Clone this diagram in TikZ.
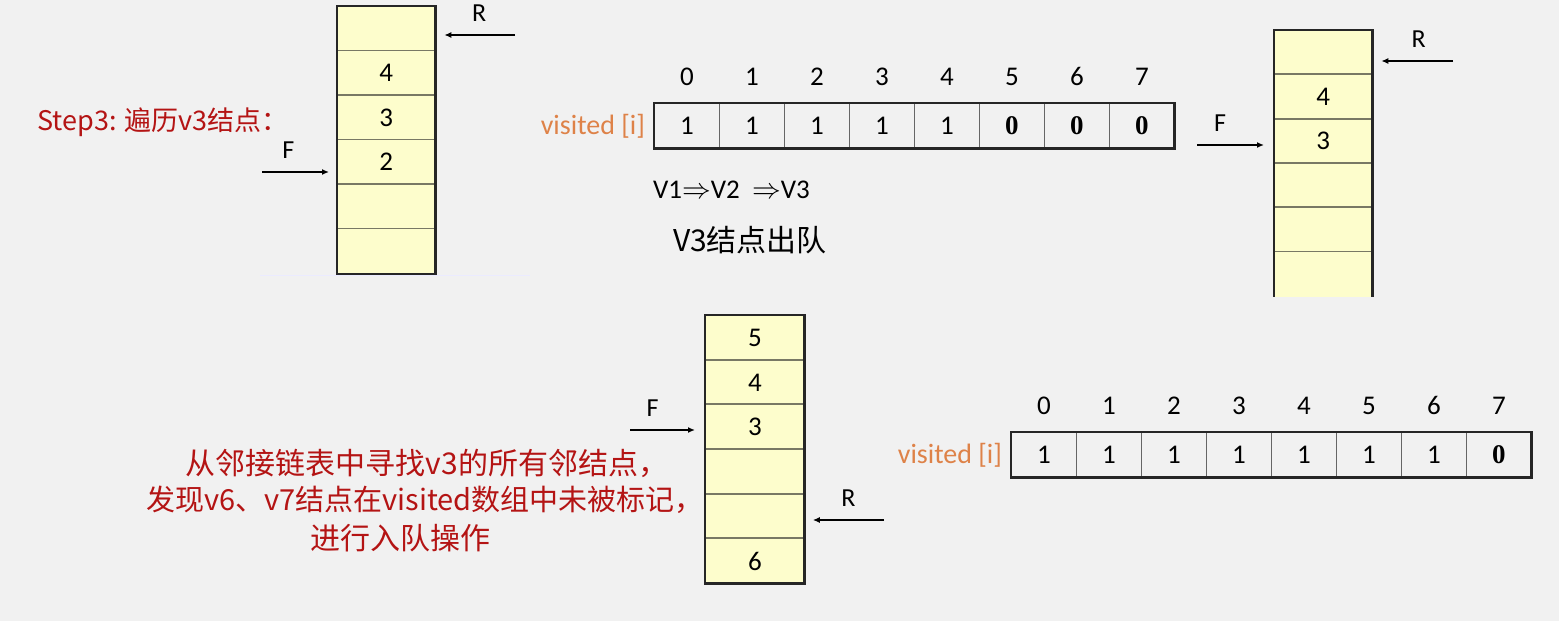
\documentclass[tikz,border=0pt]{standalone}
\usepackage{fontspec}
\setmainfont{Carlito}
\newfontfamily\cjk{Noto Sans CJK SC}
\newfontfamily\bserif{Liberation Serif}
\usetikzlibrary{arrows.meta,positioning}
\definecolor{pagegray}{RGB}{241,241,241}
\definecolor{qyellow}{RGB}{253,253,204}
\definecolor{sepline}{RGB}{120,120,100}
\definecolor{hanred}{RGB}{180,20,20}
\definecolor{idxorange}{RGB}{222,130,72}
\newcommand{\zero}{{\bserif\bfseries 0}}

\begin{document}
\begin{tikzpicture}[x=0.5pt,y=-0.5pt,
    qcell/.style={anchor=north west, inner sep=0pt, fill=qyellow, minimum width=48.75pt, minimum height=22.3pt, font=\fontsize{13.5}{15}\selectfont},
    acell/.style={anchor=north west, inner sep=0pt, minimum width=32.5pt, minimum height=22.5pt, font=\fontsize{13.5}{15}\selectfont},
    idx/.style={font=\fontsize{13.5}{15}\selectfont},
    qbox/.style={line width=1.4pt, black!85},
    sep/.style={line width=0.9pt, sepline},
    asep/.style={line width=0.5pt, black!60},
    ptr/.style={line width=0.9pt, -{Latex[length=3.5pt,width=3pt]}},
    lbl/.style={font=\fontsize{13}{15}\selectfont},
    note/.style={font=\cjk\fontsize{15}{18}\selectfont, text=hanred},
    ]
    \useasboundingbox[fill=pagegray] (0,0) rectangle (1559,621);

    \draw[line width=0.4pt, blue!8] (260,275) -- (530,275);
    \foreach \v [count=\i from 0] in {{},4,3,2,{},{}}
        \node[qcell] (qa\i) at (337,{6+44.5*\i}) {\v};
    \foreach \i in {1,...,5}
        \draw[sep] (qa\i.north west) -- (qa\i.north east);
    \draw[qbox] (qa0.north west) rectangle (qa5.south east);
    \coordinate (ra) at (515,35);
    \coordinate (fa) at (262,172);
    \draw[ptr, shorten >=4.5pt] (ra) -- (ra -| qa0.east) node[lbl, midway, above=3pt, xshift=2pt]{R};
    \draw[ptr, shorten >=4pt] (fa) -- (fa -| qa0.west) node[lbl, pos=0.35, above=3pt]{F};
    \node[note, font=\cjk\fontsize{13.5}{16}\selectfont] (step) at (163,122) {Step3: 遍历v3结点：};

    \foreach \v [count=\i from 0] in {1,1,1,1,1,\zero,\zero,\zero}{
        \node[acell] (aa\i) at ({654+65*\i},103) {\v};
        \node[idx, above=5pt of aa\i] {\i};
    }
    \foreach \i in {1,...,7}
        \draw[asep] (aa\i.north west) -- (aa\i.south west);
    \draw[qbox] (aa0.north west) rectangle (aa7.south east);
    \node[lbl, text=idxorange, left=1pt of aa0, font=\fontsize{14}{16}\selectfont] (vis1) {visited [i]};
    \node[anchor=west, font=\fontsize{13.5}{16}\selectfont] (path) at (646,190) {V1$\Rightarrow$V2\ \ $\Rightarrow$V3};
    \node[anchor=west, font=\cjk\fontsize{15}{18}\selectfont] (deq) at (666,240) {V3结点出队};

    \foreach \v [count=\i from 0] in {{},4,3,{},{},{}}
        \node[qcell] (qb\i) at (1274,{30+44.3*\i}) {\v};
    \foreach \i in {1,...,5}
        \draw[sep] (qb\i.north west) -- (qb\i.north east);
    \draw[qbox] (qb5.south west) -- (qb0.north west) -- (qb0.north east) -- (qb5.south east);
    \coordinate (rb) at (1453,61);
    \coordinate (fb) at (1197,145);
    \draw[ptr, shorten >=4.5pt] (rb) -- (rb -| qb0.east) node[lbl, midway, above=3pt, xshift=3pt]{R};
    \draw[ptr, shorten >=5pt] (fb) -- (fb -| qb0.west) node[lbl, pos=0.3, above=3pt]{F};

    \foreach \v [count=\i from 0] in {5,4,3,{},{},6}
        \node[qcell, minimum width=49.5pt] (qc\i) at (705,{315+44.67*\i}) {\v};
    \foreach \i in {1,...,5}
        \draw[sep] (qc\i.north west) -- (qc\i.north east);
    \draw[qbox] (qc0.north west) rectangle (qc5.south east);
    \coordinate (rc) at (884,520);
    \coordinate (fc) at (630,430);
    \draw[ptr, shorten >=4pt] (rc) -- (rc -| qc0.east) node[lbl, midway, above=3pt, xshift=2pt]{R};
    \draw[ptr, shorten >=5pt] (fc) -- (fc -| qc0.west) node[lbl, pos=0.3, above=3pt]{F};
    \node[note] (find) at (427,463) {从邻接链表中寻找v3的所有邻结点，};
    \node[note, font=\cjk\fontsize{14.5}{17}\selectfont] (found) at (425,500) {发现v6、v7结点在visited数组中未被标记，};
    \node[note] (enq) at (400,538) {进行入队操作};

    \foreach \v [count=\i from 0] in {1,1,1,1,1,1,1,\zero}{
        \node[acell] (ab\i) at ({1011+65*\i},432) {\v};
        \node[idx, above=5pt of ab\i] {\i};
    }
    \foreach \i in {1,...,7}
        \draw[asep] (ab\i.north west) -- (ab\i.south west);
    \draw[qbox] (ab0.north west) rectangle (ab7.south east);
    \node[lbl, text=idxorange, left=1pt of ab0, font=\fontsize{14}{16}\selectfont] (vis2) {visited [i]};
\end{tikzpicture}
\end{document}
